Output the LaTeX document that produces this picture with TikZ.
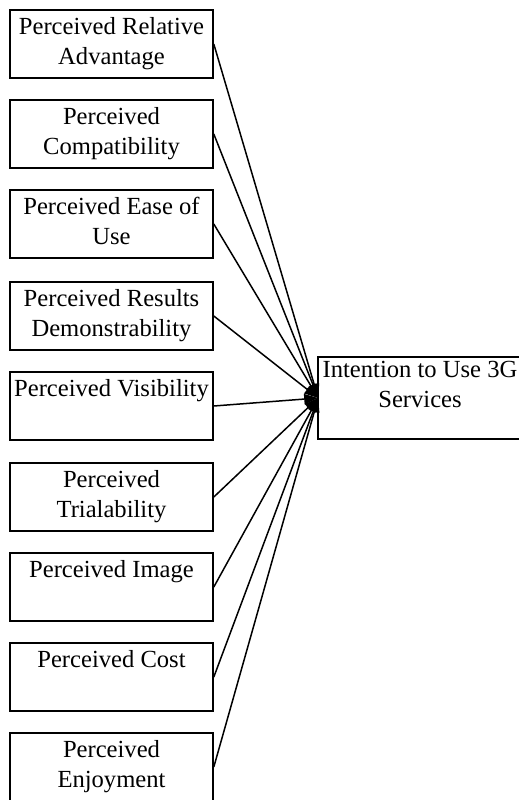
\documentclass[tikz,border=0pt]{standalone}
\usepackage{fontspec}
\setmainfont{Liberation Serif}
\usetikzlibrary{arrows.meta}
\begin{document}
\begin{tikzpicture}[x=1pt,y=-1pt,
  box/.style={draw,line width=1.6pt,minimum width=203pt,minimum height=68pt,inner sep=0pt},
  lbl/.style={anchor=north,inner sep=0pt,align=center,font=\fontsize{24.6}{30}\selectfont},
  arr/.style={line width=1.5pt,-{Triangle[length=14pt,width=10pt]}}]
\useasboundingbox (0,0) rectangle (519,800);
\node[box] (b1) at (111.5,44) {};
\node[box] (b2) at (111.5,134) {};
\node[box] (b3) at (111.5,224) {};
\node[box] (b4) at (111.5,316) {};
\node[box] (b5) at (111.5,406) {};
\node[box] (b6) at (111.5,497) {};
\node[box] (b7) at (111.5,587) {};
\node[box] (b8) at (111.5,677) {};
\node[box] (b9) at (111.5,767) {};
\node[lbl] (t1) at (111.5,17) {Perceived Relative\\Advantage};
\node[lbl] (t2) at (111.5,107) {Perceived\\Compatibility};
\node[lbl] (t3) at (111.5,197) {Perceived Ease of\\Use};
\node[lbl] (t4) at (111.5,289) {Perceived Results\\Demonstrability};
\node[lbl] (t5) at (111.5,379) {Perceived Visibility};
\node[lbl] (t6) at (111.5,470) {Perceived\\Trialability};
\node[lbl] (t7) at (111.5,560) {Perceived Image};
\node[lbl] (t8) at (111.5,650) {Perceived Cost};
\node[lbl] (t9) at (111.5,740) {Perceived\\Enjoyment};
\node[draw,line width=1.6pt,minimum width=204pt,minimum height=82pt,inner sep=0pt] (tg) at (420,398) {};
\node[lbl] (tt) at (420,361) {Intention to Use 3G\\Services};
\foreach \i in {1,...,9} {\draw[arr] (b\i.east) -- ([xshift=1pt]tg.west);}
\end{tikzpicture}
\end{document}
